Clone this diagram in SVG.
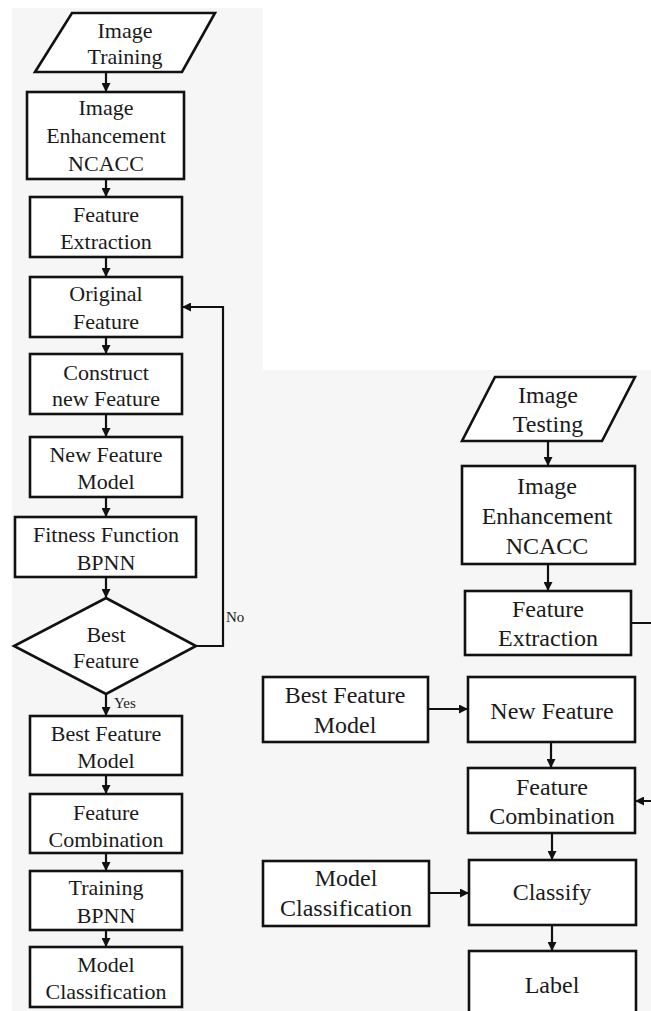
<svg xmlns="http://www.w3.org/2000/svg" width="651" height="1011" viewBox="0 0 651 1011">
<defs>
<marker id="ah" viewBox="0 0 10 10" refX="10" refY="5" markerWidth="9" markerHeight="9" markerUnits="userSpaceOnUse" orient="auto">
<path d="M0,0 L10,5 L0,10 Z" fill="#111"/>
</marker>
<style>
.bg{fill:#f6f6f6;stroke:none}
.n{fill:#fff;stroke:#111;stroke-width:2.6}
.c{fill:none;stroke:#111;stroke-width:2.2;marker-end:url(#ah)}
text{fill:#1a1a1a;text-anchor:middle}
.s{font-size:22px}
.b{font-size:24px}
.t{font-size:15px;text-anchor:start}
</style>
</defs>
<rect width="651" height="1011" fill="#fff"/>
<rect class="bg" x="12" y="8" width="251" height="1003"/>
<rect class="bg" x="263" y="370" width="388" height="641"/>

<g font-family="'Liberation Serif', Tinos, 'DejaVu Serif', serif">
<g id="connectors">
<line class="c" x1="106" y1="72" x2="106" y2="92"/>
<line class="c" x1="106" y1="179" x2="106" y2="197"/>
<line class="c" x1="106" y1="257" x2="106" y2="277"/>
<line class="c" x1="106" y1="337" x2="106" y2="354"/>
<line class="c" x1="106" y1="414" x2="106" y2="437"/>
<line class="c" x1="106" y1="497" x2="106" y2="517"/>
<line class="c" x1="106" y1="577" x2="106" y2="598"/>
<polyline class="c" points="196,646 223,646 223,307 182,307"/>
<line class="c" x1="106" y1="694" x2="106" y2="716"/>
<line class="c" x1="106" y1="775" x2="106" y2="794"/>
<line class="c" x1="106" y1="853" x2="106" y2="871"/>
<line class="c" x1="106" y1="930" x2="106" y2="947"/>
<text class="t" x="226" y="622">No</text>
<text class="t" x="114" y="708">Yes</text>

<line class="c" x1="548" y1="441" x2="548" y2="466"/>
<line class="c" x1="548" y1="564" x2="548" y2="591"/>
<polyline class="c" points="631,623 665,623 665,801 635,801"/>
<line class="c" x1="428" y1="709" x2="468" y2="709"/>
<line class="c" x1="551" y1="742" x2="551" y2="768"/>
<line class="c" x1="552" y1="833" x2="552" y2="860"/>
<line class="c" x1="429" y1="893" x2="469" y2="893"/>
<line class="c" x1="552" y1="925" x2="552" y2="951"/>
</g>

<g id="image-training">
<polygon class="n" points="72,13 215,13 182,72 35,72"/>
<text class="s" x="125" y="38">Image</text>
<text class="s" x="125" y="64">Training</text>
</g>
<g id="enhancement-train">
<rect class="n" x="27" y="92" width="157" height="87"/>
<text class="s" x="106" y="115">Image</text>
<text class="s" x="106" y="143">Enhancement</text>
<text class="s" x="106" y="171">NCACC</text>
</g>
<g id="feature-extraction-train">
<rect class="n" x="30" y="197" width="152" height="60"/>
<text class="s" x="106" y="222">Feature</text>
<text class="s" x="106" y="249">Extraction</text>
</g>
<g id="original-feature">
<rect class="n" x="30" y="277" width="152" height="60"/>
<text class="s" x="106" y="301">Original</text>
<text class="s" x="106" y="329">Feature</text>
</g>
<g id="construct-new-feature">
<rect class="n" x="30" y="354" width="152" height="60"/>
<text class="s" x="106" y="380">Construct</text>
<text class="s" x="106" y="406">new Feature</text>
</g>
<g id="new-feature-model">
<rect class="n" x="30" y="437" width="152" height="60"/>
<text class="s" x="106" y="462">New Feature</text>
<text class="s" x="106" y="489">Model</text>
</g>
<g id="fitness-function">
<rect class="n" x="15" y="517" width="181" height="60"/>
<text class="s" x="106" y="542">Fitness Function</text>
<text class="s" x="106" y="570">BPNN</text>
</g>
<g id="best-feature-decision">
<polygon class="n" points="106,598 196,646 106,694 14,646"/>
<text class="s" x="106" y="642">Best</text>
<text class="s" x="106" y="668">Feature</text>
</g>
<g id="best-feature-model-train">
<rect class="n" x="30" y="716" width="152" height="59"/>
<text class="s" x="106" y="741">Best Feature</text>
<text class="s" x="106" y="768">Model</text>
</g>
<g id="feature-combination-train">
<rect class="n" x="30" y="794" width="152" height="59"/>
<text class="s" x="106" y="820">Feature</text>
<text class="s" x="106" y="847">Combination</text>
</g>
<g id="training-bpnn">
<rect class="n" x="30" y="871" width="152" height="59"/>
<text class="s" x="106" y="895">Training</text>
<text class="s" x="106" y="923">BPNN</text>
</g>
<g id="model-classification-train">
<rect class="n" x="30" y="947" width="152" height="60"/>
<text class="s" x="106" y="972">Model</text>
<text class="s" x="106" y="999">Classification</text>
</g>

<g id="image-testing">
<polygon class="n" points="495,377 635,377 602,441 462,441"/>
<text class="b" x="548" y="403">Image</text>
<text class="b" x="548" y="432">Testing</text>
</g>
<g id="enhancement-test">
<rect class="n" x="462" y="466" width="173" height="98"/>
<text class="b" x="547" y="494">Image</text>
<text class="b" x="547" y="524">Enhancement</text>
<text class="b" x="547" y="554">NCACC</text>
</g>
<g id="feature-extraction-test">
<rect class="n" x="465" y="591" width="166" height="64"/>
<text class="b" x="548" y="617">Feature</text>
<text class="b" x="548" y="646">Extraction</text>
</g>
<g id="best-feature-model-test">
<rect class="n" x="263" y="677" width="165" height="65"/>
<text class="b" x="345" y="703">Best Feature</text>
<text class="b" x="345" y="733">Model</text>
</g>
<g id="new-feature">
<rect class="n" x="468" y="677" width="167" height="65"/>
<text class="b" x="552" y="719">New Feature</text>
</g>
<g id="feature-combination-test">
<rect class="n" x="468" y="768" width="167" height="65"/>
<text class="b" x="552" y="795">Feature</text>
<text class="b" x="552" y="824">Combination</text>
</g>
<g id="model-classification-test">
<rect class="n" x="263" y="861" width="166" height="65"/>
<text class="b" x="346" y="886">Model</text>
<text class="b" x="346" y="916">Classification</text>
</g>
<g id="classify">
<rect class="n" x="469" y="860" width="167" height="65"/>
<text class="b" x="552" y="900">Classify</text>
</g>
<g id="label">
<rect class="n" x="469" y="951" width="167" height="75"/>
<text class="b" x="552" y="993">Label</text>
</g>
</g>
</svg>
